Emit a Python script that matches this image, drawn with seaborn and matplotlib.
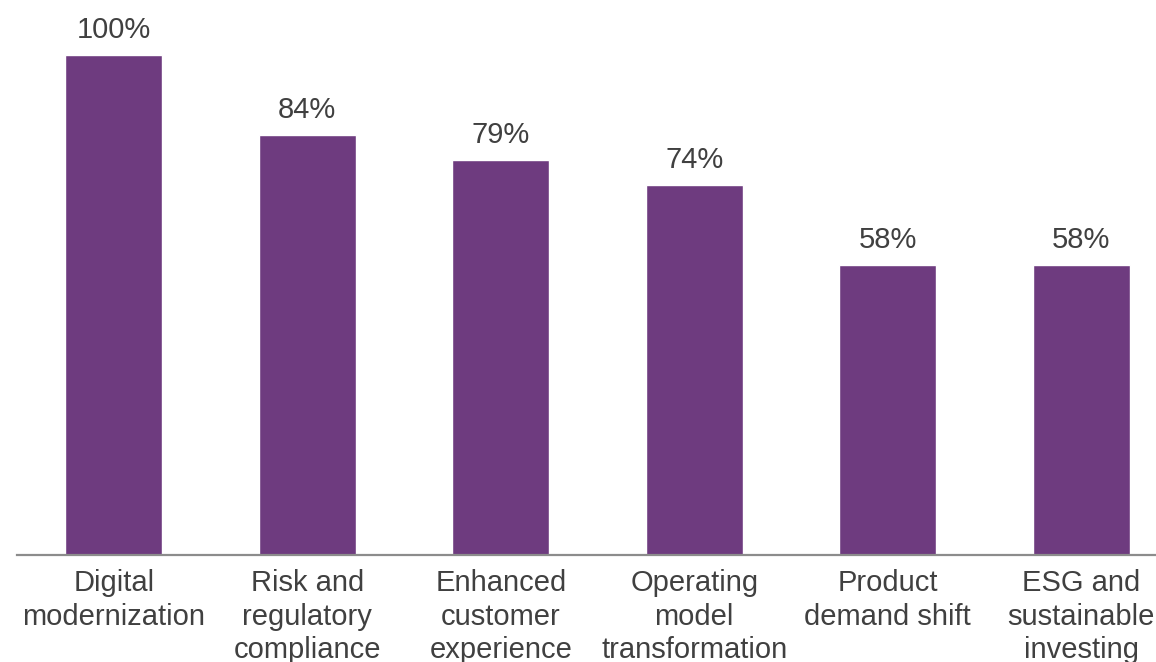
import pandas as pd
import matplotlib.pyplot as plt
import seaborn as sns

categories = [
    "Digital\nmodernization",
    "Risk and\nregulatory\ncompliance",
    "Enhanced\ncustomer\nexperience",
    "Operating\nmodel\ntransformation",
    "Product\ndemand shift",
    "ESG and\nsustainable\ninvesting",
]
shares = [100, 84, 79, 74, 58, 58]

df = pd.DataFrame({"driver": categories, "share": shares})

sns.set_theme(style="white")
plt.rcParams["font.family"] = ["Liberation Sans", "DejaVu Sans"]

W, H = 1156, 662
fig = plt.figure(figsize=(W / 100, H / 100), dpi=100)
# axes spans past the right edge of the figure, as in the reference
ax = fig.add_axes([17 / W, 107 / H, (1178 - 17) / W, 500 / H])

sns.barplot(data=df, x="driver", y="share", color="#6E3B7F", width=0.5,
            saturation=1, ax=ax)
ax.set_ylim(0, 100)
ax.set_xlim(-0.5, 5.5)

for c in ax.containers:
    ax.bar_label(c, labels=[f"{v}%" for v in shares], padding=8,
                 fontsize=21, color="#404040", clip_on=False)

ax.set_xlabel("")
ax.set_ylabel("")
ax.set_yticks([])
ax.tick_params(axis="x", length=0, pad=10, labelsize=21, labelcolor="#404040")
for lbl in ax.get_xticklabels():
    lbl.set_linespacing(1.26)
for s in ["top", "right", "left"]:
    ax.spines[s].set_visible(False)
ax.spines["bottom"].set_color("#8C8C8C")
ax.spines["bottom"].set_linewidth(1.6)

fig.savefig("out.png", dpi=100)
